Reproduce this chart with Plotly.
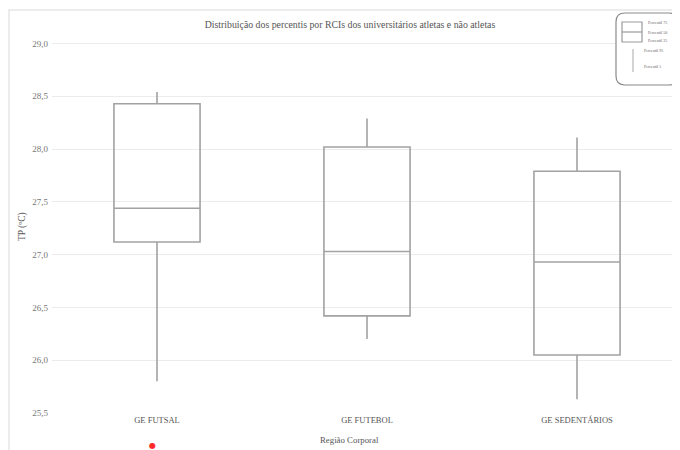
import plotly.graph_objects as go

categories = ["GE FUTSAL", "GE FUTEBOL", "GE SEDENTÁRIOS"]
lower_whisker = [25.80, 26.20, 25.63]
q1_values = [27.12, 26.42, 26.05]
median_values = [27.44, 27.03, 26.93]
q3_values = [28.43, 28.02, 27.79]
upper_whisker = [28.54, 28.29, 28.11]
y_tick_values = [25.5, 26.0, 26.5, 27.0, 27.5, 28.0, 28.5, 29.0]
y_tick_labels = ["25,5", "26,0", "26,5", "27,0", "27,5", "28,0", "28,5", "29,0"]
legend_box_labels = ["Percentil 75", "Percentil 50", "Percentil 25"]
legend_whisker_labels = ["Percentil 95", "Percentil 5"]

OFF = 8  # page body margin: screen = figure + 8
W, H = 680, 450
# plot area in screen pixels: x 52..682, y 33..413
L = 52 - OFF
T = 33 - OFF
R = W - (682 - OFF)
B = H - (413 - OFF)
PW, PH = W - L - R, H - T - B


def px(x):
    """screen x -> paper"""
    return (x - OFF - L) / PW


def py(y):
    """screen y -> paper"""
    return (H - B - (y - OFF)) / PH


FONT = "Liberation Serif, Times New Roman, serif"

fig = go.Figure()
fig.add_trace(go.Box(
    x=categories,
    q1=q1_values,
    median=median_values,
    q3=q3_values,
    lowerfence=lower_whisker,
    upperfence=upper_whisker,
    boxpoints=False,
    width=0.41,
    whiskerwidth=0,
    fillcolor="rgba(0,0,0,0)",
    line=dict(color="#a2a2a2", width=1.6),
    showlegend=False,
    hoverinfo="skip",
))


def P(x, y):
    return f"{px(x):.5f},{py(y):.5f}"


shapes = []
# outer frame of the chart
shapes.append(dict(type="rect", xref="paper", yref="paper",
                   x0=px(9), x1=px(700), y0=py(470), y1=py(10),
                   line=dict(color="#e6e6e6", width=1.5), layer="below"))
# legend box with rounded corners
rad = 9
lx0, lx1, ly0, ly1 = 616, 678, 13, 85
path = (f"M {P(lx0+rad, ly0)} L {P(lx1-rad, ly0)} Q {P(lx1, ly0)} {P(lx1, ly0+rad)} "
        f"L {P(lx1, ly1-rad)} Q {P(lx1, ly1)} {P(lx1-rad, ly1)} L {P(lx0+rad, ly1)} "
        f"Q {P(lx0, ly1)} {P(lx0, ly1-rad)} L {P(lx0, ly0+rad)} Q {P(lx0, ly0)} {P(lx0+rad, ly0)} Z")
shapes.append(dict(type="path", xref="paper", yref="paper", path=path,
                   line=dict(color="#8a8a8a", width=1.2), fillcolor="white"))
# legend box icon
shapes.append(dict(type="rect", xref="paper", yref="paper",
                   x0=px(622), x1=px(642), y0=py(42), y1=py(22),
                   line=dict(color="#9a9a9a", width=1.2)))
shapes.append(dict(type="line", xref="paper", yref="paper",
                   x0=px(622), x1=px(642), y0=py(32), y1=py(32),
                   line=dict(color="#9a9a9a", width=1.2)))
# legend whisker icon
shapes.append(dict(type="line", xref="paper", yref="paper",
                   x0=px(633), x1=px(633), y0=py(49), y1=py(72),
                   line=dict(color="#a8a8a8", width=1)))

annotations = []
for lab, yy in zip(legend_box_labels, [23, 32, 41]):
    annotations.append(dict(text=lab, xref="paper", yref="paper", x=px(646), y=py(yy),
                            xanchor="left", yanchor="middle", showarrow=False,
                            font=dict(family=FONT, size=4, color="#666")))
for lab, yy in zip(legend_whisker_labels, [50, 67]):
    annotations.append(dict(text=lab, xref="paper", yref="paper", x=px(642), y=py(yy),
                            xanchor="left", yanchor="middle", showarrow=False,
                            font=dict(family=FONT, size=4, color="#666")))
# x axis title
annotations.append(dict(text="Região Corporal", xref="paper", yref="paper", x=px(349), y=py(440),
                        xanchor="center", yanchor="middle", showarrow=False,
                        font=dict(family=FONT, size=8.8, color="#555")))
# significance marker
annotations.append(dict(text="●", xref="paper", yref="paper", x=px(152), y=py(445),
                        xanchor="center", yanchor="middle", showarrow=False,
                        font=dict(family="DejaVu Sans", size=8, color="#ff2a2a")))
# y axis title
annotations.append(dict(text="TP (ºC)", xref="paper", yref="paper", x=px(22), y=py(227),
                        xanchor="center", yanchor="middle", showarrow=False, textangle=-90,
                        font=dict(family=FONT, size=9.5, color="#555")))

fig.update_layout(
    width=W, height=H,
    margin=dict(l=L, r=R, t=T, b=B),
    paper_bgcolor="white", plot_bgcolor="white",
    title=dict(text="Distribuição dos percentis por RCIs dos universitários atletas e não atletas",
               x=(350 - OFF) / W, xanchor="center", y=1 - (25 - OFF) / H, yanchor="middle",
               font=dict(family=FONT, size=9.8, color="#555")),
    font=dict(family=FONT, size=8, color="#666"),
    shapes=shapes,
    annotations=annotations,
    xaxis=dict(type="category", range=[-0.5, 2.5], showgrid=False, zeroline=False,
               showline=False, ticks="", tickfont=dict(family=FONT, size=8.5, color="#555"),
               fixedrange=True),
    yaxis=dict(range=[25.5, 29.1], tickvals=y_tick_values, ticktext=y_tick_labels,
               showgrid=True, gridcolor="#ececec", gridwidth=1, zeroline=False,
               showline=False, ticks="", ticklabelstandoff=3,
               tickfont=dict(family=FONT, size=9, color="#777")),
)

fig.write_html(
    "out.html",
    post_script=("document.documentElement.style.overflow='hidden';"
                 "document.body.style.overflow='hidden';"),
)
